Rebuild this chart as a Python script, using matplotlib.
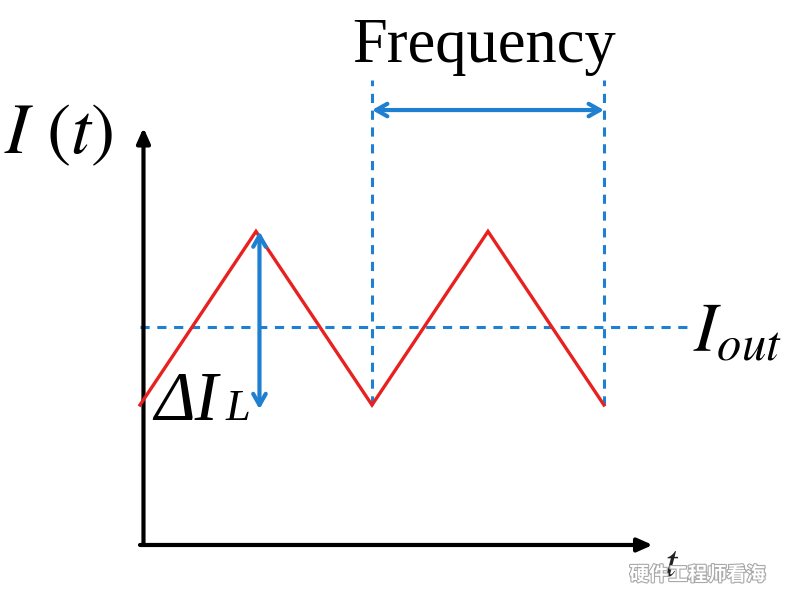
import numpy as np
import matplotlib.pyplot as plt
import matplotlib.patheffects as pe

plt.rcParams['mathtext.fontset'] = 'stix'

# triangle ripple current (time in half-periods, current in arbitrary units)
t_wave = [0, 1, 2, 3, 4]
i_wave = [1.0, 2.24, 1.0, 2.24, 1.0]
i_out = 1.56
period_marks = [2, 4]

red = '#e8211f'
blue = '#1f7fd0'

fig = plt.figure(figsize=(7.87, 6.0), dpi=100)
ax = fig.add_axes([0, 0, 1, 1])
ax.set_xlim(-1.207, 5.578)
ax.set_ylim(-0.393, 3.893)
ax.axis('off')

# axes with arrows
arrow_kw = dict(arrowstyle='-|>,head_length=0.9,head_width=0.4', color='black', lw=3,
                shrinkA=0, shrinkB=0)
ax.annotate('', xy=(4.42, 0), xytext=(0, 0), arrowprops=arrow_kw)
ax.annotate('', xy=(0.03, 2.98), xytext=(0.03, 0), arrowprops=arrow_kw)

# current waveform
ax.plot(t_wave, i_wave, color=red, lw=2.4, solid_joinstyle='miter', zorder=3)

# average current
ax.plot([0, 4.75], [i_out, i_out], color=blue, lw=2.2, ls=(0, (3, 2.5)))

# period marks
for tm in period_marks:
    ax.plot([tm, tm], [i_wave[0], 3.32], color=blue, lw=2.2, ls=(0, (3, 2.5)))

blue_arrow = dict(arrowstyle='<->,head_length=0.8,head_width=0.45', color=blue, lw=3,
                  shrinkA=0, shrinkB=0)
ax.annotate('', xy=(period_marks[0], 3.107), xytext=(period_marks[1], 3.107),
            arrowprops=blue_arrow)
ax.annotate('', xy=(1.03, max(i_wave)), xytext=(1.03, 0.97), arrowprops=blue_arrow)

# labels
ax.text(2.97, 3.45, 'Frequency', fontsize=45, family='Liberation Serif',
        ha='center', va='baseline')
ax.text(-1.17, 2.94, r'$I\ (t)$', fontsize=52, ha='left', va='center')
ax.text(4.77, 1.52, r'$I_{out}$', fontsize=50, ha='left', va='center')
ax.text(0.12, 0.893, 'ΔI', fontsize=50, family='Liberation Serif', style='italic',
        ha='left', va='baseline')
ax.text(0.74, 0.893, 'L', fontsize=32, family='Liberation Serif', style='italic',
        ha='left', va='baseline')
ax.text(4.58, -0.13, r'$t$', fontsize=32, ha='center', va='center', color='#222222')

# watermark
ax.text(4.22, -0.215, '硬件工程师看海', fontsize=14, family=['Noto Sans CJK SC', 'DejaVu Sans'],
        ha='left', va='center', color='white', fontweight='bold',
        path_effects=[pe.withStroke(linewidth=1.6, foreground='#a8a8a8')])

fig.savefig('out.png', dpi=100)
